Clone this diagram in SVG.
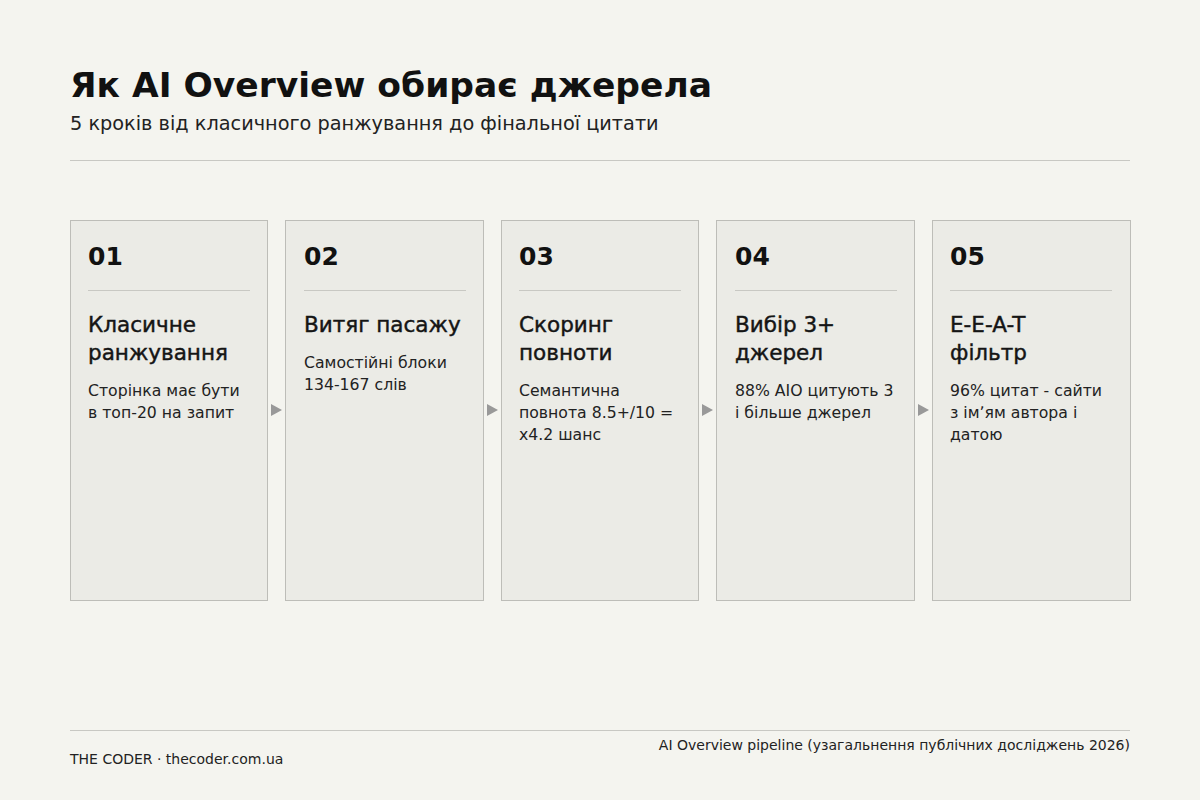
<svg xmlns="http://www.w3.org/2000/svg" width="1200" height="800" viewBox="0 0 1200 800">
<style>
text{font-family:"DejaVu Sans","Noto Sans",sans-serif;fill:#111}
.title{font-size:34.5px;font-weight:bold}
.sub{font-size:19.3px;fill:#222}
.num{font-size:25px;font-weight:bold}
.head{font-size:21.5px;font-weight:500;fill:#151515;stroke:#151515;stroke-width:0.45}
.body{font-size:15.7px;fill:#222}
.foot{font-size:14px;fill:#222}
.card{fill:#ebebe6;stroke:#bdbdb8;stroke-width:1}
.div{stroke:#c8c8c3;stroke-width:1}
.arrow{fill:#999}
</style>
<rect width="1200" height="800" fill="#f4f4ef"/>
<g id="header">
<text class="title" x="70" y="97">Як AI Overview обирає джерела</text>
<text class="sub" x="70" y="130">5 кроків від класичного ранжування до фінальної цитати</text>
<line class="div" x1="70" y1="160.5" x2="1130" y2="160.5"/>
</g>
<g id="step1">
<rect class="card" x="70.5" y="220.5" width="197" height="380"/>
<text class="num" x="88" y="265">01</text>
<line class="div" x1="88" y1="290.5" x2="250" y2="290.5"/>
<text class="head" x="88" y="332">Класичне</text>
<text class="head" x="88" y="360">ранжування</text>
<text class="body" x="88" y="396">Сторінка має бути</text>
<text class="body" x="88" y="418">в топ-20 на запит</text>
</g>
<g id="step2">
<rect class="card" x="285.5" y="220.5" width="198" height="380"/>
<text class="num" x="304" y="265">02</text>
<line class="div" x1="304" y1="290.5" x2="466" y2="290.5"/>
<text class="head" x="304" y="332">Витяг пасажу</text>
<text class="body" x="304" y="368">Самостійні блоки</text>
<text class="body" x="304" y="390">134-167 слів</text>
</g>
<g id="step3">
<rect class="card" x="501.5" y="220.5" width="197" height="380"/>
<text class="num" x="519" y="265">03</text>
<line class="div" x1="519" y1="290.5" x2="681" y2="290.5"/>
<text class="head" x="519" y="332">Скоринг</text>
<text class="head" x="519" y="360">повноти</text>
<text class="body" x="519" y="396">Семантична</text>
<text class="body" x="519" y="418">повнота 8.5+/10 =</text>
<text class="body" x="519" y="440">x4.2 шанс</text>
</g>
<g id="step4">
<rect class="card" x="716.5" y="220.5" width="198" height="380"/>
<text class="num" x="735" y="265">04</text>
<line class="div" x1="735" y1="290.5" x2="897" y2="290.5"/>
<text class="head" x="735" y="332">Вибір 3+</text>
<text class="head" x="735" y="360">джерел</text>
<text class="body" x="735" y="396">88% AIO цитують 3</text>
<text class="body" x="735" y="418">і більше джерел</text>
</g>
<g id="step5">
<rect class="card" x="932.5" y="220.5" width="198" height="380"/>
<text class="num" x="950" y="265">05</text>
<line class="div" x1="950" y1="290.5" x2="1112" y2="290.5"/>
<text class="head" x="950" y="332">E-E-A-T</text>
<text class="head" x="950" y="360">фільтр</text>
<text class="body" x="950" y="396">96% цитат - сайти</text>
<text class="body" x="950" y="418">з імʼям автора і</text>
<text class="body" x="950" y="440">датою</text>
</g>
<g id="connectors">
<polygon class="arrow" points="271,404 282,410 271,416"/>
<polygon class="arrow" points="487,404 498,410 487,416"/>
<polygon class="arrow" points="702,404 713,410 702,416"/>
<polygon class="arrow" points="918,404 929,410 918,416"/>
</g>
<g id="footer">
<line class="div" x1="70" y1="730.5" x2="1130" y2="730.5"/>
<text class="foot" x="70" y="764">THE CODER · thecoder.com.ua</text>
<text class="foot" x="1130" y="750" text-anchor="end">AI Overview pipeline (узагальнення публічних досліджень 2026)</text>
</g>
</svg>
